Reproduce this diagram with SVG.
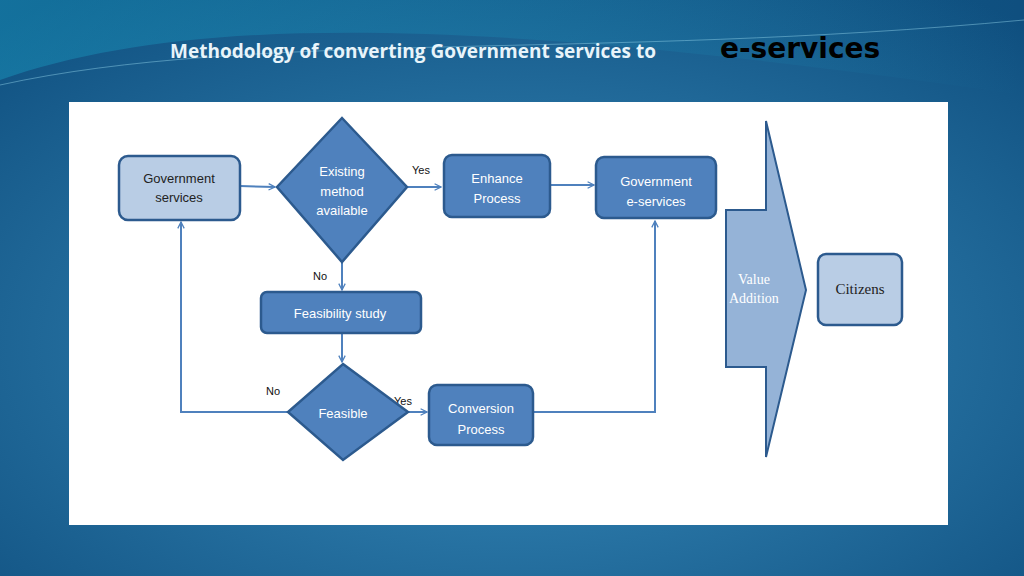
<svg xmlns="http://www.w3.org/2000/svg" width="1024" height="576" viewBox="0 0 1024 576">
<defs>
<radialGradient id="bg" cx="0.5" cy="0.6" r="0.75">
<stop offset="0" stop-color="#3a8fbf"/><stop offset="1" stop-color="#0f4f7f"/>
</radialGradient>
<linearGradient id="sw" x1="0" y1="0" x2="1" y2="0">
<stop offset="0" stop-color="#1aa3c8" stop-opacity="0.8"/><stop offset="1" stop-color="#1aa3c8" stop-opacity="0"/>
</linearGradient>
<marker id="ar" viewBox="0 0 10 10" refX="9" refY="5" markerWidth="8" markerHeight="8" orient="auto" markerUnits="userSpaceOnUse">
<path d="M1,1 L9,5 L1,9" fill="none" stroke="#4f81bd" stroke-width="1.6"/>
</marker>
<style>
.b{fill:#4f81bd;stroke:#2c5a8e;stroke-width:2.5}
.l{fill:#b9cde5;stroke:#2c5a8e;stroke-width:2.5}
.t{font-family:"Liberation Sans",Arial,sans-serif;font-size:13px;fill:#fff;text-anchor:middle}
.d{font-family:"Liberation Sans",Arial,sans-serif;font-size:13px;fill:#222;text-anchor:middle}
.s{font-family:"Liberation Sans",Arial,sans-serif;font-size:11px;fill:#111}
.c{fill:none;stroke:#4f81bd;stroke-width:2;marker-end:url(#ar)}
</style>
</defs>
<rect width="1024" height="576" fill="url(#bg)"/>
<path d="M0,80 C200,10 500,20 1024,95 L1024,0 L0,0 Z" fill="url(#sw)" opacity="0.5"/>
<path d="M0,85 C250,30 600,60 1024,20" fill="none" stroke="#8fd0e8" stroke-width="0.8" opacity="0.6"/>
<text x="170" y="58" font-family="Open Sans,Liberation Sans,sans-serif" font-size="19" font-weight="bold" fill="#e8f4fa">Methodology of converting Government services to</text>
<text x="720" y="58" font-family="DejaVu Sans,sans-serif" font-size="28" font-weight="bold" fill="#000">e-services</text>
<rect x="69" y="102" width="879" height="423" fill="#fff"/>
<g id="connectors">
<path class="c" d="M240,186 L275,187"/>
<path class="c" d="M407,187 L441,187"/>
<path class="c" d="M550,185 L594,185"/>
<path class="c" d="M342,263 L342,290"/>
<path class="c" d="M342,334 L342,362"/>
<path class="c" d="M408,412 L427,412"/>
<path class="c" d="M534,412 L655,412 L655,221"/>
<path class="c" d="M288,412 L181,412 L181,222"/>
<text class="s" x="412" y="174">Yes</text>
<text class="s" x="313" y="280">No</text>
<text class="s" x="266" y="395">No</text>
<text class="s" x="394" y="405">Yes</text>
</g>
<g id="gov"><rect class="l" x="119" y="156" width="121" height="64" rx="9"/><text class="d" x="179" y="183">Government</text><text class="d" x="179" y="202">services</text></g>
<g id="existing"><polygon class="b" points="342,118 407,187 342,262 277,187"/><text class="t" x="342" y="176">Existing</text><text class="t" x="342" y="196">method</text><text class="t" x="342" y="215">available</text></g>
<g id="enhance"><rect class="b" x="444" y="155" width="106" height="62" rx="8"/><text class="t" x="497" y="183">Enhance</text><text class="t" x="497" y="203">Process</text></g>
<g id="geserv"><rect class="b" x="596" y="157" width="120" height="61" rx="8"/><text class="t" x="656" y="186">Government</text><text class="t" x="656" y="206">e-services</text></g>
<g id="feas"><rect class="b" x="261" y="292" width="160" height="41" rx="6"/><text class="t" x="340" y="318">Feasibility study</text></g>
<g id="feasible"><polygon class="b" points="343,364 408,412 343,460 288,412"/><text class="t" x="343" y="418">Feasible</text></g>
<g id="conv"><rect class="b" x="429" y="385" width="104" height="60" rx="8"/><text class="t" x="481" y="413">Conversion</text><text class="t" x="481" y="434">Process</text></g>
<g id="value"><polygon points="726,210 766,210 766,121 806,290 766,457 766,367 726,367" fill="#95b3d7" stroke="#2c5a8e" stroke-width="2"/><text x="738" y="284" font-family="Liberation Serif,serif" font-size="14" fill="#fff">Value</text><text x="729" y="303" font-family="Liberation Serif,serif" font-size="14" fill="#fff">Addition</text></g>
<g id="citizens"><rect class="l" x="818" y="254" width="84" height="71" rx="8"/><text x="860" y="294" font-family="Liberation Serif,serif" font-size="15" fill="#222" text-anchor="middle">Citizens</text></g>
</svg>
